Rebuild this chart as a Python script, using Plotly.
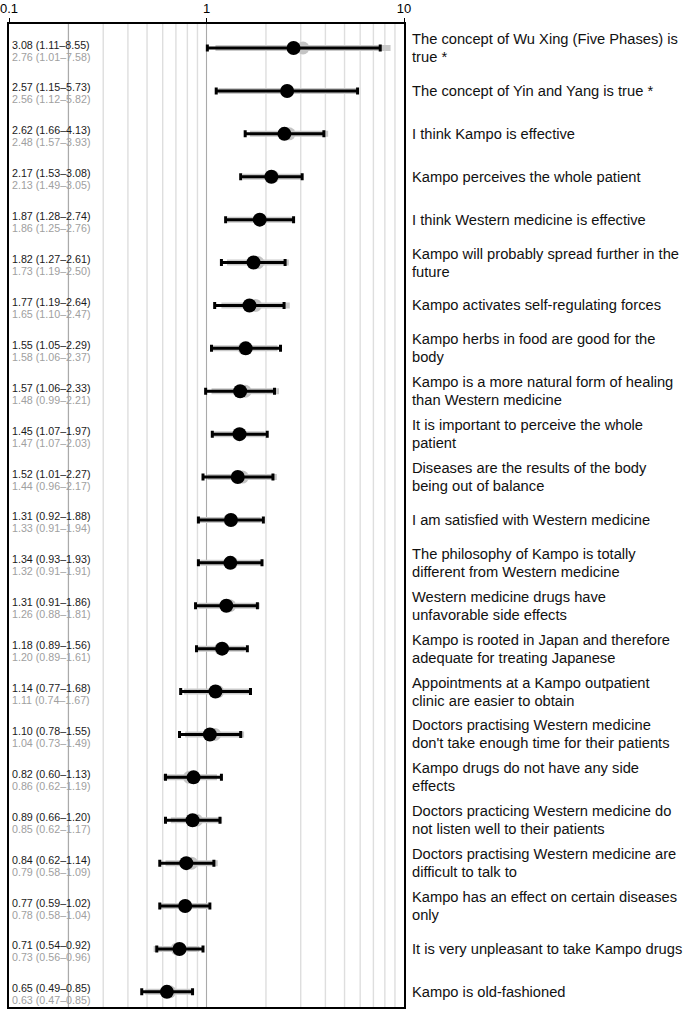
import plotly.graph_objects as go

labels = [
    "The concept of Wu Xing (Five Phases) is<br>true *",
    "The concept of Yin and Yang is true *",
    "I think Kampo is effective",
    "Kampo perceives the whole patient",
    "I think Western medicine is effective",
    "Kampo will probably spread further in the<br>future",
    "Kampo activates self-regulating forces",
    "Kampo herbs in food are good for the<br>body",
    "Kampo is a more natural form of healing<br>than Western medicine",
    "It is important to perceive the whole<br>patient",
    "Diseases are the results of the body<br>being out of balance",
    "I am satisfied with Western medicine",
    "The philosophy of Kampo is totally<br>different from Western medicine",
    "Western medicine drugs have<br>unfavorable side effects",
    "Kampo is rooted in Japan and therefore<br>adequate for treating Japanese",
    "Appointments at a Kampo outpatient<br>clinic are easier to obtain",
    "Doctors practising Western medicine<br>don't take enough time for their patients",
    "Kampo drugs do not have any side<br>effects",
    "Doctors practicing Western medicine do<br>not listen well to their patients",
    "Doctors practising Western medicine are<br>difficult to talk to",
    "Kampo has an effect on certain diseases<br>only",
    "It is very unpleasant to take Kampo drugs",
    "Kampo is old-fashioned",
]

# First estimate (black text, grey bar in plot)
or1 = [3.08, 2.57, 2.62, 2.17, 1.87, 1.82, 1.77, 1.55, 1.57, 1.45, 1.52, 1.31, 1.34, 1.31, 1.18, 1.14, 1.10, 0.82, 0.89, 0.84, 0.77, 0.71, 0.65]
lo1 = [1.11, 1.15, 1.66, 1.53, 1.28, 1.27, 1.19, 1.05, 1.06, 1.07, 1.01, 0.92, 0.93, 0.91, 0.89, 0.77, 0.78, 0.60, 0.66, 0.62, 0.59, 0.54, 0.49]
hi1 = [8.55, 5.73, 4.13, 3.08, 2.74, 2.61, 2.64, 2.29, 2.33, 1.97, 2.27, 1.88, 1.93, 1.86, 1.56, 1.68, 1.55, 1.13, 1.20, 1.14, 1.02, 0.92, 0.85]

# Second estimate (grey text, black bar in plot)
or2 = [2.76, 2.56, 2.48, 2.13, 1.86, 1.73, 1.65, 1.58, 1.48, 1.47, 1.44, 1.33, 1.32, 1.26, 1.20, 1.11, 1.04, 0.86, 0.85, 0.79, 0.78, 0.73, 0.63]
lo2 = [1.01, 1.12, 1.57, 1.49, 1.25, 1.19, 1.10, 1.06, 0.99, 1.07, 0.96, 0.91, 0.91, 0.88, 0.89, 0.74, 0.73, 0.62, 0.62, 0.58, 0.58, 0.56, 0.47]
hi2 = [7.58, 5.82, 3.93, 3.05, 2.76, 2.50, 2.47, 2.37, 2.21, 2.03, 2.17, 1.94, 1.91, 1.81, 1.61, 1.67, 1.49, 1.19, 1.17, 1.09, 1.04, 0.96, 0.85]

tick_vals = [0.1, 1, 10]
tick_text = ["0.1", "1", "10"]
minor_grid = [0.2, 0.3, 0.4, 0.5, 0.6, 0.7, 0.8, 0.9, 2, 3, 4, 5, 6, 7, 8, 9]
dark_grid = [0.2, 1]

n = len(labels)
ys = [-i for i in range(n)]
y_top, y_bot = 0.56, -22.353

FONT = "Liberation Sans, Arial, Helvetica, sans-serif"

fig = go.Figure()

def vlines(vals):
    xs, yy = [], []
    for v in vals:
        xs += [v, v, None]
        yy += [y_bot, y_top, None]
    return xs, yy

gx, gy = vlines(minor_grid)
fig.add_trace(go.Scatter(x=gx, y=gy, mode="lines", line=dict(color="#dedede", width=1.4),
                         hoverinfo="skip", showlegend=False))
dx, dy = vlines(dark_grid)
fig.add_trace(go.Scatter(x=dx, y=dy, mode="lines", line=dict(color="#aaaaaa", width=1.1),
                         hoverinfo="skip", showlegend=False))

# grey thick bars
bx, by = [], []
for y, a, b in zip(ys, lo1, hi1):
    bx += [a, b, None]
    by += [y, y, None]
fig.add_trace(go.Scatter(x=bx, y=by, mode="lines", line=dict(color="#c9c9c9", width=6),
                         hoverinfo="skip", showlegend=False))
fig.add_trace(go.Scatter(x=or1, y=ys, mode="markers",
                         marker=dict(color="#c4c4c4", size=13), showlegend=False))

# black bars
fig.add_trace(go.Scatter(
    x=or2, y=ys, mode="markers",
    marker=dict(color="black", size=14),
    error_x=dict(type="data", symmetric=False,
                 array=[h - o for h, o in zip(hi2, or2)],
                 arrayminus=[o - l for o, l in zip(or2, lo2)],
                 color="black", thickness=3, width=3.5),
    showlegend=False))

ann = []
for i, y in enumerate(ys):
    ann.append(dict(x=0.002, xref="paper", y=y, yref="y", xanchor="left", yanchor="middle",
                    yshift=3.5, showarrow=False,
                    text=f"{or1[i]:.2f} ({lo1[i]:.2f}–{hi1[i]:.2f})",
                    font=dict(size=10.7, color="#1a1a1a", family=FONT)))
    ann.append(dict(x=0.002, xref="paper", y=y, yref="y", xanchor="left", yanchor="middle",
                    yshift=-8.5, showarrow=False,
                    text=f"{or2[i]:.2f} ({lo2[i]:.2f}–{hi2[i]:.2f})",
                    font=dict(size=10.7, color="#a0a0a0", family=FONT)))
    lines = labels[i].split("<br>")
    m = len(lines)
    for k, line in enumerate(lines):
        ann.append(dict(x=1.0152, xref="paper", y=y, yref="y", xanchor="left", yanchor="middle",
                        yshift=18 * ((m - 1) / 2 - k), showarrow=False, text=line,
                        font=dict(size=14.7, color="#111111", family=FONT)))

fig.update_layout(
    width=685, height=1012,
    margin=dict(l=9, r=281, t=24, b=5, autoexpand=False),
    paper_bgcolor="white", plot_bgcolor="white",
    annotations=ann,
    xaxis=dict(type="log", range=[-1, 1], side="top", automargin=False,
               tickvals=tick_vals, ticktext=tick_text, ticklabeloverflow="allow",
               ticks="outside", ticklen=4, tickwidth=1.2, tickcolor="black",
               tickfont=dict(size=13, color="black", family=FONT),
               showgrid=False, zeroline=False,
               showline=True, linecolor="black", linewidth=1.5, mirror=True),
    yaxis=dict(range=[y_bot, y_top], showticklabels=False, showgrid=False, zeroline=False,
               automargin=False,
               showline=True, linecolor="black", linewidth=1.5, mirror=True, ticks=""),
)

fig.write_html("out.html", config={"displayModeBar": False},
               post_script="document.body.style.margin='0';document.body.style.overflow='hidden';")
